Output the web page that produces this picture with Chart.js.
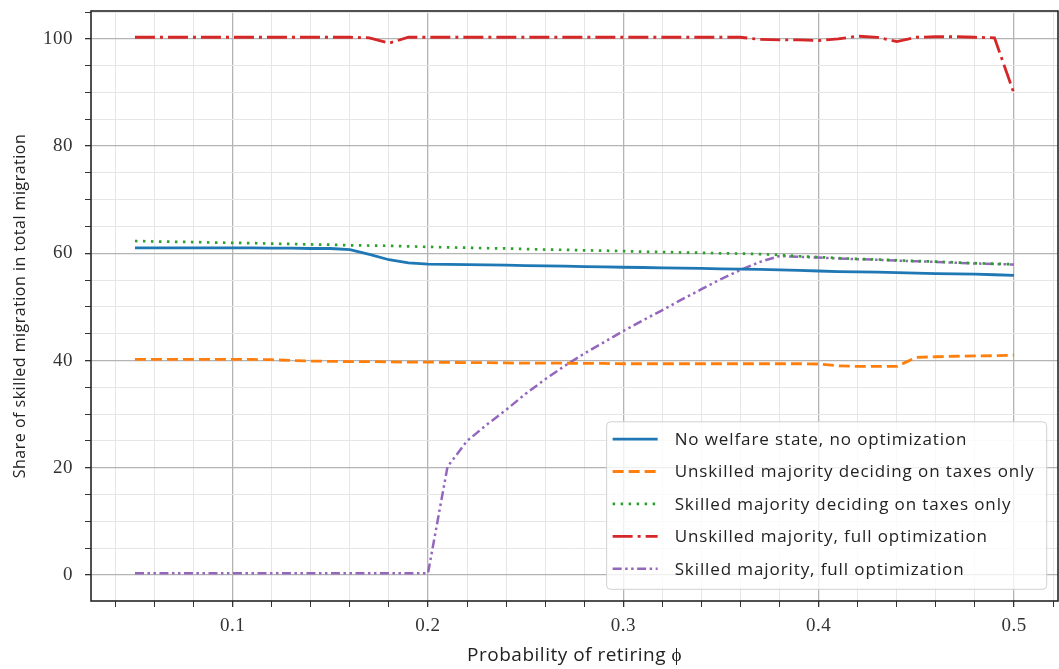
<!DOCTYPE html>
<html>
<head>
<meta charset="utf-8">
<script src="https://cdn.jsdelivr.net/npm/chart.js@4"></script>
<style>html,body{margin:0;padding:0;background:#fff;overflow:hidden}</style>
</head>
<body>
<canvas id="c" width="1059" height="669"></canvas>
<script>
// ---- data ----
const xValues = [0.05,0.06,0.07,0.08,0.09,0.10,0.11,0.12,0.13,0.14,0.15,0.16,0.17,0.18,0.19,0.20,0.21,0.22,0.23,0.24,0.25,0.26,0.27,0.28,0.29,0.30,0.31,0.32,0.33,0.34,0.35,0.36,0.37,0.38,0.39,0.40,0.41,0.42,0.43,0.44,0.45,0.46,0.47,0.48,0.49,0.50];

const seriesLabels = [
  'No welfare state, no optimization',
  'Unskilled majority deciding on taxes only',
  'Skilled majority deciding on taxes only',
  'Unskilled majority, full optimization',
  'Skilled majority, full optimization'
];

const noWelfare = [61.0,61.0,61.0,61.0,61.0,61.0,61.0,60.95,60.95,60.9,60.9,60.7,59.8,58.8,58.2,58.0,57.95,57.9,57.85,57.8,57.7,57.65,57.6,57.5,57.45,57.4,57.35,57.3,57.25,57.2,57.1,57.05,57.0,56.9,56.8,56.7,56.6,56.55,56.5,56.4,56.3,56.2,56.15,56.1,56.0,55.9];

const unskilledTaxes = [40.2,40.2,40.2,40.2,40.2,40.2,40.2,40.15,40.0,39.9,39.85,39.8,39.8,39.75,39.7,39.7,39.65,39.6,39.6,39.55,39.5,39.5,39.5,39.45,39.45,39.4,39.4,39.4,39.4,39.4,39.4,39.4,39.4,39.4,39.4,39.35,39.0,38.9,38.9,38.9,40.6,40.7,40.8,40.85,40.9,41.0];

const skilledTaxes = [62.3,62.2,62.15,62.1,62.0,61.95,61.9,61.8,61.75,61.65,61.6,61.5,61.45,61.4,61.3,61.2,61.1,61.05,60.95,60.9,60.8,60.7,60.65,60.55,60.5,60.4,60.3,60.25,60.15,60.1,60.0,59.95,59.85,59.7,59.45,59.3,59.1,58.95,58.85,58.7,58.55,58.45,58.3,58.15,58.05,57.95];

const unskilledFull = [100.3,100.3,100.3,100.3,100.3,100.3,100.3,100.3,100.3,100.3,100.3,100.3,100.2,99.2,100.3,100.3,100.3,100.3,100.3,100.3,100.3,100.3,100.3,100.3,100.3,100.3,100.3,100.3,100.3,100.3,100.3,100.3,99.9,99.8,99.8,99.7,100.0,100.5,100.3,99.5,100.3,100.4,100.4,100.3,100.2,89.8];

const skilledFull = [0.3,0.3,0.3,0.3,0.3,0.3,0.3,0.3,0.3,0.3,0.3,0.3,0.3,0.3,0.3,0.3,20.2,25.0,28.0,30.8,33.8,36.5,39.0,41.3,43.4,45.5,47.5,49.4,51.4,53.3,55.2,56.9,58.4,59.5,59.35,59.2,59.05,58.9,58.8,58.65,58.5,58.4,58.25,58.1,58.0,57.9];

const xMajorTicks = [0.1,0.2,0.3,0.4,0.5];
const xTickLabels = ['0.1','0.2','0.3','0.4','0.5'];
const yMajorTicks = [0,20,40,60,80,100];
const yTickLabels = ['0','20','40','60','80','100'];
const xMinorStep = 0.02;
const yMinorStep = 5;

const xTitle = 'Probability of retiring ϕ';
const yTitle = 'Share of skilled migration in total migration';

// ---- styles ----
const colors = ['#1f77b4','#ff7f0e','#2ca02c','#d62728','#9467bd'];
const dashes = [[], [11,5], [2.5,5.5], [20,5,3,5], [9,3.5,2.5,3.5,2.5,3.5]];
const widths = [2.8, 2.8, 2.7, 2.8, 2.5];
const seriesValues = [noWelfare, unskilledTaxes, skilledTaxes, unskilledFull, skilledFull];

function majorIndex(v, majors){
  for (let i=0;i<majors.length;i++) if (Math.abs(v-majors[i])<1e-9) return i;
  return -1;
}
function buildTicks(min, max, step){
  const out=[];
  const start = Math.ceil(min/step - 1e-9);
  const end = Math.floor(max/step + 1e-9);
  for (let k=start;k<=end;k++) out.push({value: Math.round(k*step*1e6)/1e6});
  return out;
}

const datasets = seriesValues.map((vals,i)=>({
  label: seriesLabels[i],
  data: xValues.map((x,j)=>({x:x, y:vals[j]})),
  borderColor: colors[i],
  backgroundColor: colors[i],
  borderDash: dashes[i],
  borderWidth: widths[i],
  pointRadius: 0,
  fill: false,
  tension: 0
}));

const LEGEND_FONT = '17px "Open Sans"';

const spacing = {
  id: 'spacing',
  beforeDraw(chart){ if ('letterSpacing' in chart.ctx) chart.ctx.letterSpacing = '0.5px'; }
};

const innerLegend = {
  id: 'innerLegend',
  afterDatasetsDraw(chart){
    const {ctx, chartArea: ca} = chart;
    const ds = chart.data.datasets;
    ctx.save();
    ctx.font = LEGEND_FONT;
    if ('letterSpacing' in ctx) ctx.letterSpacing = '0.9px';
    const rowH = 32.4;
    const padL = 6, lineW = 45, gap = 17, padR = 12;
    const textW = Math.max(...ds.map(d=>ctx.measureText(d.label).width));
    const boxW = padL + lineW + gap + textW + padR;
    const boxH = (ds.length-1)*rowH + 17.3 + 20.6;
    const right = ca.right - 11.3, bottom = ca.bottom - 11.7;
    const left = right - boxW, top = bottom - boxH;
    ctx.beginPath();
    ctx.roundRect(left, top, boxW, boxH, 4);
    ctx.fillStyle = 'rgba(255,255,255,0.8)';
    ctx.fill();
    ctx.strokeStyle = '#d0d0d0';
    ctx.lineWidth = 1;
    ctx.stroke();
    ds.forEach((d,i)=>{
      const cy = top + 17.3 + i*rowH;
      ctx.beginPath();
      ctx.setLineDash(d.borderDash || []);
      ctx.strokeStyle = d.borderColor;
      ctx.lineWidth = d.borderWidth;
      ctx.moveTo(left+padL, cy);
      ctx.lineTo(left+padL+lineW, cy);
      ctx.stroke();
      ctx.setLineDash([]);
      ctx.fillStyle = '#222';
      ctx.textBaseline = 'middle';
      ctx.textAlign = 'left';
      ctx.fillText(d.label, left+padL+lineW+gap, cy+1);
    });
    ctx.restore();
  }
};

const frame = {
  id: 'frame',
  afterDraw(chart){
    const {ctx, chartArea: ca} = chart;
    ctx.save();
    ctx.strokeStyle = '#262626';
    ctx.lineWidth = 1.6;
    ctx.strokeRect(ca.left, ca.top, ca.right-ca.left, ca.bottom-ca.top);
    ctx.restore();
  }
};

new Chart(document.getElementById('c'), {
  type: 'line',
  data: { datasets },
  options: {
    responsive: false,
    animation: false,
    devicePixelRatio: 1,
    layout: { padding: { top: 11, right: 1, left: 0, bottom: 0 } },
    plugins: { legend: { display: false }, tooltip: { enabled: false } },
    scales: {
      x: {
        type: 'linear',
        min: 0.0275, max: 0.5225,
        afterBuildTicks: (s)=>{ s.ticks = buildTicks(s.min, s.max, xMinorStep); },
        afterFit: (s)=>{ s.height = 68; s.paddingLeft = 0; s.paddingRight = 0; },
        border: { display: false },
        grid: {
          color: (c)=> majorIndex(c.tick.value, xMajorTicks)>=0 ? '#b4b4b4' : '#e6e6e6',
          lineWidth: (c)=> majorIndex(c.tick.value, xMajorTicks)>=0 ? 1.3 : 1,
          tickColor: '#333',
          tickLength: 6
        },
        ticks: {
          autoSkip: false, maxRotation: 0, padding: 8, color: '#333',
          font: { family: '"Liberation Serif"', size: 19 },
          callback: (v)=>{ const i = majorIndex(v, xMajorTicks); return i>=0 ? xTickLabels[i] : ''; }
        },
        title: {
          display: true, text: xTitle, color: '#222',
          font: { family: '"Open Sans"', size: 19 },
          padding: { top: 0, bottom: 2 }
        }
      },
      y: {
        type: 'linear',
        min: -4.86, max: 105.2,
        afterBuildTicks: (s)=>{ s.ticks = buildTicks(s.min, s.max, yMinorStep); },
        afterFit: (s)=>{ s.width = 91; s.paddingTop = 0; s.paddingBottom = 0; },
        border: { display: false },
        grid: {
          color: (c)=> majorIndex(c.tick.value, yMajorTicks)>=0 ? '#b4b4b4' : '#e6e6e6',
          lineWidth: (c)=> majorIndex(c.tick.value, yMajorTicks)>=0 ? 1.3 : 1,
          tickColor: '#333',
          tickLength: 6
        },
        ticks: {
          autoSkip: false, padding: 12, color: '#333',
          font: { family: '"Liberation Serif"', size: 19 },
          callback: (v)=>{ const i = majorIndex(v, yMajorTicks); return i>=0 ? yTickLabels[i] : ''; }
        },
        title: {
          display: true, text: yTitle, color: '#222',
          font: { family: '"Open Sans"', size: 16 },
          padding: { top: 11, bottom: 0 }
        }
      }
    }
  },
  plugins: [spacing, innerLegend, frame]
});
</script>
</body>
</html>
